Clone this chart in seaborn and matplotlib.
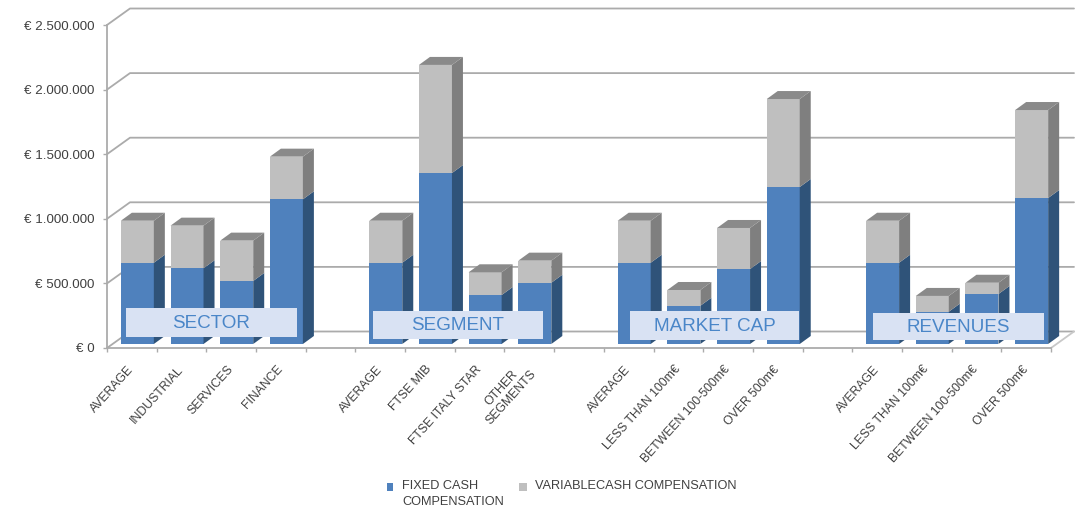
import matplotlib
matplotlib.use('Agg')
import matplotlib.pyplot as plt
from matplotlib.lines import Line2D
from matplotlib.patches import Polygon, Rectangle
from matplotlib.transforms import IdentityTransform
import numpy as np
import pandas as pd
import seaborn as sns

slots = [0, 1, 2, 3, 5, 6, 7, 8, 10, 11, 12, 13, 15, 16, 17, 18]
labels = ['AVERAGE', 'INDUSTRIAL', 'SERVICES', 'FINANCE',
          'AVERAGE', 'FTSE MIB', 'FTSE ITALY STAR', 'OTHER\nSEGMENTS',
          'AVERAGE', 'LESS THAN 100m€', 'BETWEEN 100-500m€', 'OVER 500m€',
          'AVERAGE', 'LESS THAN 100m€', 'BETWEEN 100-500m€', 'OVER 500m€']
fixed_cash = [629000, 586000, 488000, 1120000,
              629000, 1323000, 379000, 474000,
              629000, 296000, 580000, 1215000,
              629000, 250000, 387000, 1130000]
total_cash = [954000, 916000, 800000, 1450000,
              954000, 2160000, 555000, 645000,
              954000, 418000, 898000, 1896000,
              954000, 372000, 474000, 1811000]
y_ticks = [0, 500000, 1000000, 1500000, 2000000, 2500000]
group_names = ['SECTOR', 'SEGMENT', 'MARKET CAP', 'REVENUES']
legend_names = ['FIXED CASH\nCOMPENSATION', 'VARIABLECASH COMPENSATION']

W, H = 1078, 508
BLUE, BLUE_SIDE = '#4F81BD', '#2F5379'
GREY, GREY_SIDE, GREY_TOP = '#BFBFBF', '#7F7F7F', '#8A8A8A'
LINE = '#ABABAB'
TEXT = '#404040'

sns.set_theme(style='white')
plt.rcParams['font.family'] = ['Liberation Sans', 'DejaVu Sans']

df = pd.DataFrame({'slot': slots, 'fixed': fixed_cash, 'total': total_cash})

fig = plt.figure(figsize=(W / 100, H / 100), dpi=100)
# frame holds the axis, the walls and the labels; bars sit a bit inside the floor
frame = fig.add_axes([107 / W, (H - 348) / H, 944 / W, 323 / H])
ax = fig.add_axes([112.5 / W, (H - 344) / H, 944 / W, 323 / H], zorder=3)
ax.patch.set_alpha(0)
ax.axis('off')

sns.barplot(df, x='slot', y='total', color=GREY, saturation=1, width=0.664,
            native_scale=True, linewidth=0, edgecolor='none', ax=ax)
sns.barplot(df, x='slot', y='fixed', color=BLUE, saturation=1, width=0.664,
            native_scale=True, linewidth=0, edgecolor='none', ax=ax)

for a in (frame, ax):
    a.set_xlim(-0.5, 18.5)
    a.set_ylim(0, 2500000)

# Axis and ticks
sns.despine(ax=frame, top=True, right=True)
frame.spines['left'].set_color(LINE)
frame.spines['bottom'].set_color(LINE)
frame.spines['left'].set_linewidth(1.3)
frame.spines['bottom'].set_linewidth(1.3)
frame.patch.set_alpha(0)
frame.set_xlabel('')
frame.set_ylabel('')
frame.set_yticks(y_ticks)
frame.set_yticklabels([('€ {:,.0f}'.format(v)).replace(',', '.') for v in y_ticks],
                      fontsize=9.6, color=TEXT)
frame.set_xticks(np.arange(-0.5, 19, 1))
frame.set_xticklabels([])
frame.set_xticks(slots, labels, minor=True)
frame.tick_params(axis='x', which='major', length=3, width=1, color=LINE, bottom=True)
frame.tick_params(axis='x', which='minor', length=0, pad=14, bottom=True)
frame.tick_params(axis='y', length=3, width=1, color=LINE, left=True, pad=6)
for t in frame.get_xticklabels(minor=True):
    t.set(rotation=48, ha='right', va='center', rotation_mode='anchor',
          fontsize=8.8, color=TEXT, multialignment='center')

# Back wall gridlines and floor
DX, DY = 23, 16.5
for v in y_ticks:
    x0, y0 = frame.transData.transform((-0.5, v))
    x1, _ = frame.transData.transform((18.5, v))
    frame.add_line(Line2D([x0, x0 + DX, x1 + DX], [y0, y0 + DY, y0 + DY],
                          color=LINE, lw=1.3, transform=IdentityTransform(), clip_on=False))
x0, y0 = frame.transData.transform((18.5, 0))
frame.add_line(Line2D([x0, x0 + DX], [y0, y0 + DY], color='#C8C8C8', lw=1.3,
                      transform=IdentityTransform(), clip_on=False))

# 3D sides and tops, built from the bars seaborn drew
BDX, BDY = 11, 8
grey_bars, blue_bars = ax.containers[0], ax.containers[1]
for g, b in zip(grey_bars, blue_bars):
    (xl, y_base), (xr, y_top) = ax.transData.transform(
        [(g.get_x(), 0), (g.get_x() + g.get_width(), g.get_height())])
    _, y_mid = ax.transData.transform((0, b.get_height()))
    faces = [
        ([(xr, y_base), (xr + BDX, y_base + BDY), (xr + BDX, y_mid + BDY), (xr, y_mid)], BLUE_SIDE),
        ([(xr, y_mid), (xr + BDX, y_mid + BDY), (xr + BDX, y_top + BDY), (xr, y_top)], GREY_SIDE),
        ([(xl, y_top), (xr, y_top), (xr + BDX, y_top + BDY), (xl + BDX, y_top + BDY)], GREY_TOP),
    ]
    for pts, col in faces:
        ax.add_patch(Polygon(pts, closed=True, facecolor=col, edgecolor='none',
                             transform=IdentityTransform(), clip_on=False))

# Group boxes
boxes = [(126, 297, 308, 337), (373, 543, 311, 339), (630, 799, 311, 340), (873, 1044, 313, 340)]
for name, (bx0, bx1, by0, by1) in zip(group_names, boxes):
    ax.add_patch(Rectangle((bx0, H - by1), bx1 - bx0, by1 - by0, facecolor='#D9E2F3',
                           edgecolor='none', transform=IdentityTransform(),
                           clip_on=False, zorder=5))
    ax.text((bx0 + bx1) / 2, H - (by0 + by1) / 2 - 1, name, color='#4A86C8', fontsize=13.6,
            ha='center', va='center', transform=IdentityTransform(), zorder=6)

# Legend, placed by hand so the marker stays level with the first line
for name, col, (mx0, mx1), tx in zip(legend_names, [BLUE, GREY], [(387, 393), (519, 527)], [402, 535]):
    ax.add_patch(Rectangle((mx0, H - 491), mx1 - mx0, 8, facecolor=col, edgecolor='none',
                           transform=IdentityTransform(), clip_on=False))
    ax.text(tx, H - 480, name, color=TEXT, fontsize=9.2, ha='left', va='top', linespacing=1.4,
            transform=IdentityTransform())

fig.savefig('out.png', dpi=100)
